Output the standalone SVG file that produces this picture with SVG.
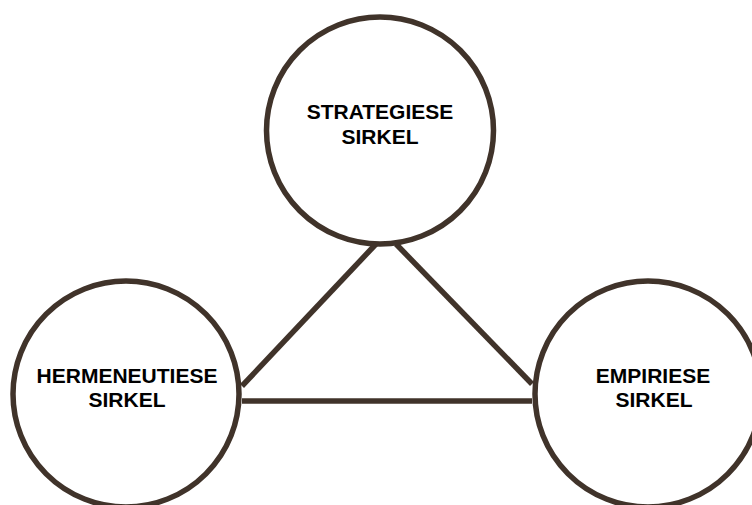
<svg xmlns="http://www.w3.org/2000/svg" width="752" height="505" viewBox="0 0 752 505">
<style>
.c{fill:#fff;stroke:#40332a;stroke-width:5.5}
.l{stroke:#40332a;stroke-width:5.5;fill:none}
.t{font-family:"Liberation Sans",Arial,sans-serif;font-weight:bold;font-size:21px;fill:#000;text-anchor:middle}
</style>
<rect width="752" height="505" fill="#fff"/>
<g id="connectors">
<line class="l" x1="376" y1="244" x2="242" y2="386"/>
<line class="l" x1="396" y1="244" x2="532" y2="384"/>
<line class="l" x1="242" y1="401" x2="532" y2="401"/>
</g>
<g id="strategiese">
<circle class="c" cx="380" cy="130.5" r="113.5"/>
<text class="t" x="380" y="119">STRATEGIESE</text>
<text class="t" x="380" y="144">SIRKEL</text>
</g>
<g id="hermeneutiese">
<circle class="c" cx="126" cy="394" r="113"/>
<text class="t" x="127" y="383">HERMENEUTIESE</text>
<text class="t" x="127" y="407">SIRKEL</text>
</g>
<g id="empiriese">
<circle class="c" cx="648" cy="394" r="113"/>
<text class="t" x="653" y="383">EMPIRIESE</text>
<text class="t" x="654" y="407">SIRKEL</text>
</g>
</svg>
